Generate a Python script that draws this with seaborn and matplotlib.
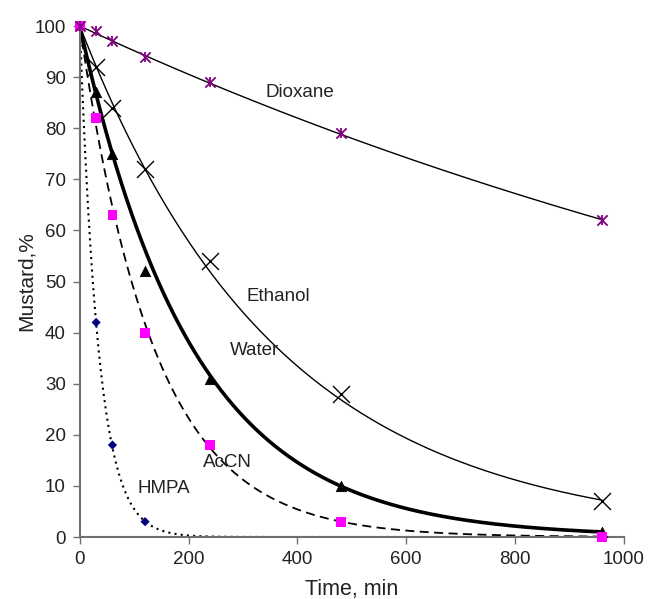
import numpy as np
import pandas as pd
import matplotlib
matplotlib.use("Agg")
import matplotlib.pyplot as plt
import seaborn as sns

sns.set_theme(style="white")
plt.rcParams['font.family'] = ['Liberation Sans', 'DejaVu Sans']

# Data
time = [0, 30, 60, 120, 240, 480, 960]
dioxane = [100, 99, 97, 94, 89, 79, 62]
ethanol = [100, 92, 84, 72, 54, 28, 7]
water = [100, 87, 75, 52, 31, 10, 1]
accn = [100, 82, 63, 40, 18, 3, 0]
hmpa_time = [0, 30, 60, 120]
hmpa = [100, 42, 18, 3]

series_names = ["Dioxane", "Ethanol", "Water", "AcCN", "HMPA"]

def fit_k(t, y):
    t = np.asarray(t, float); y = np.asarray(y, float)
    m = y > 0
    ly = np.log(y[m] / 100.0)
    return -np.sum(t[m] * ly) / np.sum(t[m] ** 2)

fig = plt.figure(figsize=(6.49, 5.99), dpi=100)
ax = fig.add_axes([0.123, 0.1035, 0.838, 0.853])

tt = np.linspace(0, 960, 400)
styles = {
    "Dioxane": dict(t=time, y=dioxane, lw=1.0, ls='-'),
    "Ethanol": dict(t=time, y=ethanol, lw=1.0, ls='-'),
    "Water": dict(t=time, y=water, lw=2.6, ls='-'),
    "AcCN": dict(t=time, y=accn, lw=1.3, ls=(0, (5, 3))),
    "HMPA": dict(t=hmpa_time, y=hmpa, lw=1.5, ls=(0, (1, 2))),
}
for name in series_names:
    s = styles[name]
    k = fit_k(s['t'], s['y'])
    df = pd.DataFrame({"t": tt, "y": 100 * np.exp(-k * tt)})
    sns.lineplot(data=df, x="t", y="y", ax=ax, color='black', lw=s['lw'], linestyle=s['ls'], zorder=2)

# markers (the shared start point at t=0 is shown by the AcCN / Dioxane markers on top)
def pts(t, y, z, **kw):
    d = pd.DataFrame({"t": t, "y": y})
    sns.scatterplot(data=d, x="t", y="y", ax=ax, zorder=z, **kw)
    ax.collections[-1].set_clip_on(False)

pts(hmpa_time[1:], hmpa[1:], 3, marker='D', s=22, color='#000080', edgecolor='none')
pts(time[1:], water[1:], 3, marker='^', s=55, color='black', edgecolor='black')
pts(time[1:], ethanol[1:], 3, marker='x', s=150, color='black', linewidth=1.0)
pts(time, accn, 4, marker='s', s=50, color='#FF00FF', edgecolor='none')
pts(time, dioxane, 5, marker='x', s=55, color='#800080', linewidth=1.3)
pts(time, dioxane, 5, marker='|', s=55, color='#800080', linewidth=1.3)

label_pos = {"Dioxane": (405, 87), "Ethanol": (365, 47), "Water": (322, 36.5), "AcCN": (272, 14.5), "HMPA": (155, 9.5)}
for name in series_names:
    x, y = label_pos[name]
    ax.text(x, y, name, fontsize=13.5, ha='center', va='center', color='#222222')

ax.set_xlim(0, 1000)
ax.set_ylim(0, 100)
ax.set_xticks(range(0, 1001, 200))
ax.set_yticks(range(0, 101, 10))
ax.set_xlabel("Time, min", fontsize=15.5, color='#222222', labelpad=8)
ax.set_ylabel("Mustard,%", fontsize=15, color='#222222', labelpad=-1)
ax.tick_params(axis='both', labelsize=13.5, colors='#222222', direction='out', length=5, width=1, pad=5, left=True, bottom=True)
ax.tick_params(axis='both', color='#707070')
for sp in ['top', 'right']:
    ax.spines[sp].set_visible(False)
for sp in ['left', 'bottom']:
    ax.spines[sp].set_color('#707070')
    ax.spines[sp].set_linewidth(1.5)
ax.grid(False)

fig.savefig("out.png", dpi=100)
